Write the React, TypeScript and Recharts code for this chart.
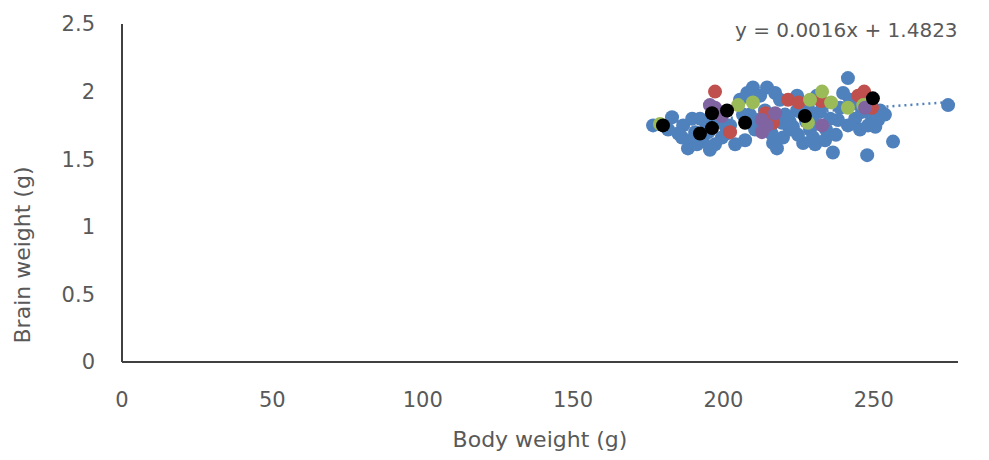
import React from 'react';
import { ScatterChart, Scatter, XAxis, YAxis, Label } from 'recharts';

// body weight (g) / brain weight (g) per group
const BLUE_X = [176.6, 182.9, 181.6, 186.6, 186.2, 188.2, 189.6, 190.6, 193.2, 193.9, 192.2, 198.2, 199.5, 200.5, 203.9, 205.5, 207.9, 209.8, 212.2, 214.5, 217.2, 218.8, 216.5, 217.8, 219.8, 222.1, 223.1, 224.5, 224.5, 225.5, 226.5, 228.8, 229.8, 230.5, 231.1, 232.1, 233.8, 236.4, 238.1, 239.8, 241.4, 241.4, 243.8, 245.4, 247.8, 249.4, 252.1, 253.7, 256.4, 274.7, 188.9, 195.5, 202.2, 207.2, 213.8, 220.5, 215.5, 228.1, 235.5, 238.8, 242.1, 246.1, 251.4, 197.2, 191.2, 208.8, 210.5, 224.8, 229.5, 234.1, 237.4, 248.1, 206.5, 211.5, 219.5, 227.5, 233.0, 244.5, 250.5, 185.0, 195.0, 201.0, 216.0, 222.0];
const BLUE_Y = [1.75, 1.81, 1.72, 1.75, 1.66, 1.58, 1.80, 1.70, 1.63, 1.78, 1.80, 1.80, 1.66, 1.75, 1.61, 1.94, 1.99, 2.03, 1.97, 2.03, 1.99, 1.94, 1.62, 1.58, 1.66, 1.72, 1.74, 1.86, 1.97, 1.85, 1.62, 1.72, 1.66, 1.61, 1.97, 1.85, 1.64, 1.55, 1.79, 1.99, 2.10, 1.75, 1.80, 1.72, 1.53, 1.81, 1.86, 1.83, 1.63, 1.90, 1.64, 1.57, 1.75, 1.64, 1.86, 1.83, 1.73, 1.88, 1.80, 1.88, 1.94, 1.85, 1.79, 1.61, 1.61, 1.83, 1.72, 1.68, 1.80, 1.72, 1.68, 1.75, 1.83, 1.79, 1.77, 1.78, 1.90, 1.91, 1.74, 1.69, 1.70, 1.69, 1.69, 1.78];

const RED_X = [197.2, 202.2, 216.5, 221.5, 225.0, 232.5, 244.8, 246.8, 249.4, 214.0];
const RED_Y = [2.00, 1.70, 1.77, 1.94, 1.92, 1.93, 1.97, 2.00, 1.88, 1.84];

const GREEN_X = [178.9, 204.9, 209.8, 228.1, 228.8, 232.8, 235.8, 241.4, 246.5];
const GREEN_Y = [1.76, 1.90, 1.92, 1.77, 1.94, 2.00, 1.92, 1.88, 1.90];

const PURPLE_X = [195.5, 197.2, 199.5, 212.8, 212.8, 217.2, 232.8, 247.1, 214.5];
const PURPLE_Y = [1.90, 1.88, 1.82, 1.79, 1.70, 1.84, 1.75, 1.88, 1.75];

const BLACK_X = [179.9, 192.2, 196.2, 196.2, 201.2, 207.2, 227.1, 249.7];
const BLACK_Y = [1.75, 1.69, 1.73, 1.84, 1.86, 1.77, 1.82, 1.95];

const X_TICKS = [0, 50, 100, 150, 200, 250];
const Y_TICKS = [0, 0.5, 1, 1.5, 2, 2.5];

// trendline from the printed equation
const SLOPE = 0.0016;
const INTERCEPT = 1.4823;

const toPoints = (xs: number[], ys: number[]) => xs.map((x, i) => ({ x, y: ys[i] }));

const allX = [...BLUE_X, ...RED_X, ...GREEN_X, ...PURPLE_X, ...BLACK_X];
const minX = Math.min(...allX);
const maxX = Math.max(...allX);
const trend = [
  { x: minX, y: SLOPE * minX + INTERCEPT },
  { x: maxX, y: SLOPE * maxX + INTERCEPT },
];

const FONT = '"DejaVu Sans", sans-serif';
const TEXT = '#595959';

const dot = (fill: string) => (props: any) => (
  <circle cx={props.cx} cy={props.cy} r={7} fill={fill} />
);

const groups = [
  { name: 'blue', color: '#4F81BD', data: toPoints(BLUE_X, BLUE_Y) },
  { name: 'red', color: '#C0504D', data: toPoints(RED_X, RED_Y) },
  { name: 'green', color: '#9BBB59', data: toPoints(GREEN_X, GREEN_Y) },
  { name: 'purple', color: '#8064A2', data: toPoints(PURPLE_X, PURPLE_Y) },
  { name: 'black', color: '#000000', data: toPoints(BLACK_X, BLACK_Y) },
];

export default function App() {
  return (
    <div style={{ position: 'absolute', left: 0, top: 0, width: 989, height: 460, background: '#fff' }}>
      <ScatterChart width={989} height={460} margin={{ top: 24, right: 31, bottom: 0, left: 0 }}>
        <XAxis
          type="number"
          dataKey="x"
          domain={[0, 278]}
          ticks={X_TICKS}
          allowDataOverflow
          height={98}
          tickLine={false}
          tickSize={0}
          tickMargin={30}
          axisLine={{ stroke: '#404040', strokeWidth: 2 }}
          tick={{ fill: TEXT, fontSize: 21, fontFamily: FONT }}
        >
          <Label
            value="Body weight (g)"
            position="insideBottom"
            offset={13}
            style={{ fill: TEXT, fontSize: 22, fontFamily: FONT }}
          />
        </XAxis>
        <YAxis
          type="number"
          dataKey="y"
          domain={[0, 2.5]}
          ticks={Y_TICKS}
          width={122}
          tickLine={false}
          tickSize={0}
          tickMargin={27}
          axisLine={{ stroke: '#404040', strokeWidth: 2 }}
          tick={{ fill: TEXT, fontSize: 21, fontFamily: FONT }}
        >
          <Label
            content={() => (
              <text
                x={22}
                y={255}
                transform="rotate(-90 22 255)"
                textAnchor="middle"
                dominantBaseline="central"
                fill={TEXT}
                fontSize={22}
                fontFamily={FONT}
              >
                Brain weight (g)
              </text>
            )}
          />
        </YAxis>
        <Scatter
          data={trend}
          line={{ stroke: '#4F81BD', strokeWidth: 2.5, strokeDasharray: '2 4' }}
          shape={() => <g />}
          isAnimationActive={false}
        />
        {groups.map((g) => (
          <Scatter key={g.name} name={g.name} data={g.data} shape={dot(g.color)} isAnimationActive={false} />
        ))}
      </ScatterChart>
      <div
        style={{
          position: 'absolute',
          left: 735,
          top: 17,
          fontFamily: FONT,
          fontSize: 20,
          color: TEXT,
          whiteSpace: 'nowrap',
          lineHeight: '26px',
        }}
      >
        y = 0.0016x + 1.4823
      </div>
    </div>
  );
}
